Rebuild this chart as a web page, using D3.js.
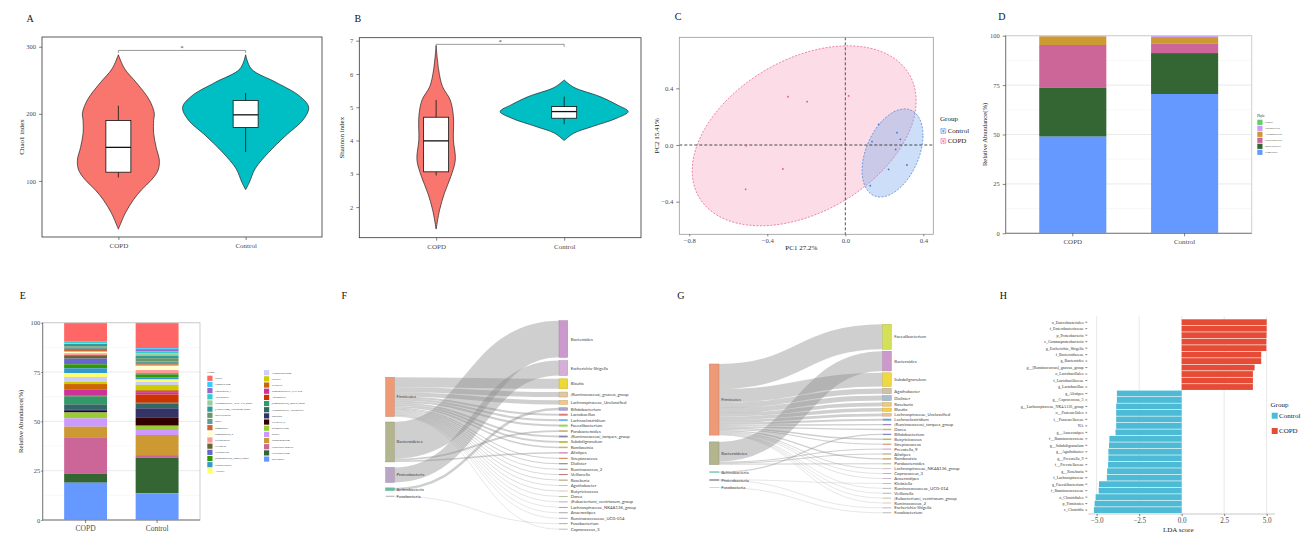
<!DOCTYPE html>
<html>
<head>
<meta charset="utf-8">
<script src="https://d3js.org/d3.v7.min.js"></script>
<style>
  body { margin: 0; background: #fff; }
</style>
</head>
<body>
<svg id="fig" width="1301" height="535"></svg>
<script>
var SERIF = "'Liberation Serif','Times New Roman',serif";
var SANS = "Lato,'Liberation Sans',sans-serif";

var groups = ["COPD", "Control"];
var groupColors = ["#F8766D", "#00BFC4"];

// A: Chao1 violins, [value, relative density]
var chaoCOPD = [[28,0],[52,0.11],[72,0.24],[87,0.37],[101,0.52],[116,0.63],[131,0.65],[150,0.6],[171,0.56],[190,0.56],[201,0.57],[221,0.49],[246,0.29],[267,0.1],[288,0]];
var chaoControl = [[87,0],[98,0.06],[118,0.15],[142,0.36],[167,0.63],[192,0.92],[210,1],[227,0.85],[247,0.48],[267,0.09],[288,0]];
// min, q1, median, q3, max
var chaoBoxes = [[105,113,150,190,212],[143,179.5,198.5,220,231]];
var chaoTicks = [100,200,300];
var chaoSig = 294.5;

// B: Shannon violins
var shanCOPD = [[1.34,0],[1.92,0.055],[2.42,0.13],[2.92,0.23],[3.42,0.3],[4.02,0.27],[4.72,0.27],[5.22,0.22],[5.62,0.1],[6.12,0.04],[6.85,0]];
var shanControl = [[4.0,0],[4.22,0.15],[4.42,0.44],[4.67,0.82],[4.87,1],[5.07,0.83],[5.32,0.56],[5.6,0.15],[5.82,0]];
var shanBoxes = [[2.95,3.06,3.99,4.7,5.22],[4.49,4.67,4.87,5.02,5.32]];
var shanTicks = [2,3,4,5,6,7];
var shanSig = 6.89;

// C: PCoA points and ellipses [cx, cy, sx, sy, rho]
var pcoaCOPD = [[-0.294,0.341],[-0.196,0.306],[0.017,0.346],[-0.508,-0.005],[-0.320,-0.169],[-0.511,-0.313],[0.0,-0.212]];
var pcoaControl = [[0.171,0.146],[0.137,0.024],[0.265,0.087],[0.282,0.040],[0.258,-0.031],[0.222,-0.172],[0.316,-0.141],[0.128,-0.287]];
var ellipseCOPD = [-0.211, 0.065, 0.574, 0.635, 0.39];
var ellipseControl = [0.242, -0.056, 0.156, 0.311, 0.40];
var pcoaXTicks = [-0.8,-0.4,0,0.4];
var pcoaYTicks = [-0.4,0,0.4];

// D: phyla, legend order (top first)
var phyla = ["Others","Fusobacteria","Actinobacteria","Proteobacteria","Bacteroidetes","Firmicutes"];
var phylaCOPD = [0,0.3,4.4,21.6,24.8,48.9];
var phylaControl = [0.1,0.6,3.4,4.7,20.7,70.5];
var phylaColors = ["#66CC66","#CC99FF","#CC9933","#CC6699","#336633","#6699FF"];
var pctTicks = [0,25,50,75,100];

// E: genera, legend order (top first)
var genusNames = ["Others","Fusobacterium","Coprococcus_3","Anaerostipes","Lachnospiraceae_NK4A136_group","[Eubacterium]_ventriosum_group","Butyricicoccus","Dorea","Romboutsia","Ruminococcus_2","Streptococcus","Veillonella","Lactobacillus","[Ruminococcus]_torques_group","Parabacteroides","Alistipes","Lachnoclostridium","Dialister","Klebsiella","Ruminococcaceae_UCG-014","Agathobacter","[Ruminococcus]_gnavus_group","Lachnospiraceae_Unclassified","Roseburia","Prevotella_9","Bifidobacterium","Blautia","Subdoligranulum","Escherichia-Shigella","Faecalibacterium","Bacteroides"];
var genusCOPD = [9.5,0.1,0.2,0.7,0.3,1.2,0.6,0.7,1.4,0.8,1.0,1.7,2.9,2.0,2.4,2.0,2.4,1.2,2.9,3.0,0.3,4.1,2.5,0.8,0.8,3.0,4.2,5.7,18.1,4.6,18.9];
var genusControl = [12.9,0.5,1.2,1.0,1.2,1.2,1.7,1.4,0.7,2.2,1.7,0.3,0.2,1.4,1.2,1.2,1.5,2.7,1.0,1.2,4.2,0.3,2.5,4.6,4.2,2.2,2.5,10.2,1.3,18.1,13.5];
var genusColors = ["#FF6666","#33CCFF","#9966CC","#33CCCC","#99CC99","#339999","#669966","#669999","#CC6633","#FFFFCC","#FF9999","#666633","#6666CC","#339900","#3399CC","#FFFF66","#CCCCFF","#CCCC00","#CC6600","#CC3399","#CC3300","#339966","#336666","#333366","#330000","#99CC33","#CC99FF","#CC9933","#CC6699","#336633","#6699FF"];

// F: sankey COPD (right nodes top to bottom)
var fPhyla = ["Firmicutes","Bacteroidetes","Proteobacteria","Actinobacteria","Fusobacteria"];
var fPhylaColors = ["#EE9A77","#B3B58E","#B9A6C6","#66C2A5","#999999"];
var fGenera = ["Bacteroides","Escherichia-Shigella","Blautia","[Ruminococcus]_gnavus_group","Lachnospiraceae_Unclassified","Bifidobacterium","Lactobacillus","Lachnoclostridium","Faecalibacterium","Parabacteroides","[Ruminococcus]_torques_group","Subdoligranulum","Romboutsia","Alistipes","Streptococcus","Dialister","Ruminococcus_2","Veillonella","Roseburia","Agathobacter","Butyricicoccus","Dorea","[Eubacterium]_ventriosum_group","Lachnospiraceae_NK4A136_group","Anaerostipes","Ruminococcaceae_UCG-014","Fusobacterium","Coprococcus_3"];
var fGenusPhylum = ["Bacteroidetes","Proteobacteria","Firmicutes","Firmicutes","Firmicutes","Actinobacteria","Firmicutes","Firmicutes","Firmicutes","Bacteroidetes","Firmicutes","Firmicutes","Firmicutes","Bacteroidetes","Firmicutes","Firmicutes","Firmicutes","Firmicutes","Firmicutes","Firmicutes","Firmicutes","Firmicutes","Firmicutes","Firmicutes","Firmicutes","Firmicutes","Fusobacteria","Firmicutes"];
var fGenusValue = [36.6,15.0,10.0,5.0,4.2,2.6,2.0,2.0,2.0,1.8,1.8,1.8,1.5,1.5,1.0,1.0,0.8,0.8,0.8,0.7,0.7,0.6,0.6,0.5,0.5,0.5,0.4,0.4];
var fGenusColors = ["#CC99CC","#D7AED7","#EED836","#E2C69E","#F0C987","#A9A6D6","#E07B7B","#7FB2E5","#9BD24E","#C9B48A","#8C7FA8","#B5C334","#C8B560","#D38FC6","#D5723A","#5B7A99","#9C6A4E","#A0524F","#9C7B4A","#B5B5B5","#C4C49A","#A0B08A","#9AA0B0","#8C8CA8","#909090","#A0A0B8","#999999","#AAAAAA"];

// G: sankey Control
var gPhyla = ["Firmicutes","Bacteroidetes","Actinobacteria","Proteobacteria","Fusobacteria"];
var gPhylaColors = ["#EE9A77","#B3B58E","#66C2A5","#555555","#CCCCCC"];
var gGenera = ["Faecalibacterium","Bacteroides","Subdoligranulum","Agathobacter","Dialister","Roseburia","Blautia","Lachnospiraceae_Unclassified","Lachnoclostridium","[Ruminococcus]_torques_group","Dorea","Bifidobacterium","Butyricicoccus","Streptococcus","Prevotella_9","Alistipes","Romboutsia","Parabacteroides","Lachnospiraceae_NK4A136_group","Coprococcus_3","Anaerostipes","Klebsiella","Ruminococcaceae_UCG-014","Veillonella","[Eubacterium]_ventriosum_group","Ruminococcus_2","Escherichia-Shigella","Fusobacterium"];
var gGenusPhylum = ["Firmicutes","Bacteroidetes","Firmicutes","Firmicutes","Firmicutes","Firmicutes","Firmicutes","Firmicutes","Firmicutes","Firmicutes","Firmicutes","Actinobacteria","Firmicutes","Firmicutes","Bacteroidetes","Bacteroidetes","Firmicutes","Bacteroidetes","Firmicutes","Firmicutes","Firmicutes","Proteobacteria","Firmicutes","Firmicutes","Firmicutes","Firmicutes","Proteobacteria","Fusobacteria"];
var gGenusValue = [25,19.7,13.7,5.3,5.0,3.7,3.3,2.7,2.0,1.3,1.5,1.3,1.5,1.0,1.0,1.0,1.3,1.0,0.8,0.6,0.6,0.5,0.5,0.4,0.5,0.4,0.5,0.4];
var gGenusColors = ["#D4E157","#CC99CC","#F0D840","#CFC0A8","#A9BDD0","#EFC87A","#F5D046","#E8C48F","#6A9FD4","#9B8DB5","#C8B86A","#8A88C4","#A5C55A","#D77A55","#C898C8","#B09070","#C8A060","#9AC060","#C0A8B8","#B0A090","#C0A8C0","#B0A8C8","#A8A8A8","#A0A0A0","#B0B090","#D0C0A0","#B8A0B8","#A8A8A8"];

// H: LEfSe LDA scores
var ldaLabels = ["o_Enterobacteriales","f_Enterobacteriaceae","p_Proteobacteria","c_Gammaproteobacteria","g_Escherichia_Shigella","f_Bacteroidaceae","g_Bacteroides","g__[Ruminococcus]_gnavus_group","o_Lactobacillales","f_Lactobacillaceae","g_Lactobacillus","g_Alistipes","g__Coprococcus_3","g__Lachnospiraceae_NK4A136_group","o__Pasteurellales","f__Pasteurellaceae","NA","g__Anaerostipes","f__Ruminococcaceae","g__Subdoligranulum","g__Agathobacter","g__Prevotella_9","f__Prevotellaceae","g__Roseburia","f_Lachnospiraceae","g_Faecalibacterium","f_Ruminococcaceae","o_Clostridiales","p_Firmicutes","c_Clostridia"];
var ldaScores = [5.0,5.0,4.99,4.98,4.98,4.68,4.68,4.29,4.19,4.19,4.19,-3.81,-3.81,-3.85,-3.85,-3.85,-3.85,-3.89,-4.25,-4.27,-4.31,-4.31,-4.33,-4.38,-4.40,-4.86,-4.88,-5.06,-5.12,-5.16];
var ldaGroup = ldaScores.map(function(v) { return v > 0 ? "COPD" : "Control"; });
var ldaColors = {"COPD": "#E64B35", "Control": "#4DBBD5"};
var ldaTicks = [-5,-2.5,0,2.5,5];

var svg = d3.select("#fig");
svg.append("rect").attr("width", 1301).attr("height", 535).attr("fill", "#fff");

function letter(t, x, y) {
  svg.append("text").attr("x", x).attr("y", y)
    .attr("font-family", SERIF).attr("font-size", 10).attr("fill", "#111").text(t);
}

function axisStyle(sel, fs) {
  sel.attr("font-family", SERIF).attr("font-size", fs);
  sel.select(".domain").remove();
  sel.selectAll(".tick line").attr("stroke", "#333").attr("stroke-width", 0.6);
  sel.selectAll(".tick text").attr("fill", "#4d4d4d");
}

function yTitle(text, x, y, fs) {
  svg.append("text").attr("transform", "translate(" + x + "," + y + ") rotate(-90)")
    .attr("text-anchor", "middle").attr("font-family", SERIF).attr("font-size", fs)
    .attr("fill", "#222").text(text);
}

// ---------- violin panels (A, B) ----------
function violinPanel(o) {
  var g = svg.append("g");
  var x = d3.scalePoint().domain(groups).range([o.left, o.right]).padding(0.6);
  var y = d3.scaleLinear().domain(o.domain).range([o.bottom, o.top]);
  var w = d3.scaleLinear().domain([0, 1]).range([0, o.wmax]);
  var boxW = 25;

  o.profiles.forEach(function(prof, i) {
    var cx = x(groups[i]);
    var area = d3.area().curve(d3.curveCatmullRom)
      .y(function(d) { return y(d[0]); })
      .x0(function(d) { return cx - w(d[1]); })
      .x1(function(d) { return cx + w(d[1]); });
    g.append("path").attr("d", area(prof))
      .attr("fill", groupColors[i]).attr("stroke", "#222").attr("stroke-width", 0.7);
    var b = o.boxes[i];
    g.append("line").attr("x1", cx).attr("x2", cx).attr("y1", y(b[0])).attr("y2", y(b[4]))
      .attr("stroke", "#111").attr("stroke-width", 0.8);
    g.append("rect").attr("x", cx - boxW / 2).attr("width", boxW)
      .attr("y", y(b[3])).attr("height", y(b[1]) - y(b[3]))
      .attr("fill", "#fff").attr("stroke", "#111").attr("stroke-width", 0.8);
    g.append("line").attr("x1", cx - boxW / 2).attr("x2", cx + boxW / 2)
      .attr("y1", y(b[2])).attr("y2", y(b[2]))
      .attr("stroke", "#111").attr("stroke-width", 1.3);
  });

  // significance bracket
  var sy = y(o.sig), xa = x(groups[0]), xb = x(groups[1]);
  g.append("path").attr("d", "M" + xa + "," + (sy + 2.5) + "V" + sy + "H" + xb + "V" + (sy + 2.5))
    .attr("fill", "none").attr("stroke", "#555").attr("stroke-width", 0.6);
  g.append("text").attr("x", (xa + xb) / 2).attr("y", sy - 0.5).attr("text-anchor", "middle")
    .attr("font-family", SERIF).attr("font-size", 6).attr("fill", "#333").text("*");

  g.append("rect").attr("x", o.left).attr("y", o.top)
    .attr("width", o.right - o.left).attr("height", o.bottom - o.top)
    .attr("fill", "none").attr("stroke", "#333").attr("stroke-width", 0.8);

  g.append("g").attr("transform", "translate(" + o.left + ",0)")
    .call(d3.axisLeft(y).tickValues(o.ticks).tickSize(3).tickPadding(3).tickFormat(d3.format("d")))
    .call(axisStyle, 6.5);
  g.append("g").attr("transform", "translate(0," + o.bottom + ")")
    .call(d3.axisBottom(x).tickSize(3).tickPadding(3))
    .call(axisStyle, 7);
  yTitle(o.title, o.titleX, (o.top + o.bottom) / 2, 7);
}

violinPanel({left: 42, right: 322, top: 37, bottom: 237, domain: [16.4, 314.5], ticks: chaoTicks,
  profiles: [chaoCOPD, chaoControl], boxes: chaoBoxes, sig: chaoSig, wmax: 63,
  title: "Chao1 index", titleX: 24.2});
violinPanel({left: 359.3, right: 641, top: 37.7, bottom: 237.7, domain: [1.08, 7.09], ticks: shanTicks,
  profiles: [shanCOPD, shanControl], boxes: shanBoxes, sig: shanSig, wmax: 64,
  title: "Shannon index", titleX: 344.2});

// ---------- C: PCoA ----------
(function() {
  var g = svg.append("g");
  var L = 679.3, R = 933.3, T = 37.3, B = 234.3;
  var x = d3.scaleLinear().domain([-0.851, 0.451]).range([L, R]);
  var y = d3.scaleLinear().domain([-0.63, 0.76]).range([B, T]);
  var cols = {"COPD": "#E8528A", "Control": "#3A7BD5"};
  var fills = {"COPD": "#F48FB1", "Control": "#6FA4EC"};
  var line = d3.line().curve(d3.curveLinearClosed)
    .x(function(d) { return x(d[0]); }).y(function(d) { return y(d[1]); });
  function ellipsePts(e) {
    return d3.range(0, 2 * Math.PI, Math.PI / 72).map(function(t) {
      return [e[0] + e[2] * Math.cos(t),
              e[1] + e[3] * (e[4] * Math.cos(t) + Math.sqrt(1 - e[4] * e[4]) * Math.sin(t))];
    });
  }
  g.append("path").attr("d", line(ellipsePts(ellipseCOPD)))
    .attr("fill", fills.COPD).attr("fill-opacity", 0.3)
    .attr("stroke", cols.COPD).attr("stroke-width", 0.7).attr("stroke-dasharray", "2,1.5");
  g.append("path").attr("d", line(ellipsePts(ellipseControl)))
    .attr("fill", fills.Control).attr("fill-opacity", 0.35)
    .attr("stroke", cols.Control).attr("stroke-width", 0.7).attr("stroke-dasharray", "2,1.5");

  g.append("line").attr("x1", x(0)).attr("x2", x(0)).attr("y1", T).attr("y2", B)
    .attr("stroke", "#555").attr("stroke-width", 1).attr("stroke-dasharray", "3,2");
  g.append("line").attr("x1", L).attr("x2", R).attr("y1", y(0)).attr("y2", y(0))
    .attr("stroke", "#222").attr("stroke-width", 0.8).attr("stroke-dasharray", "3,2");

  [["COPD", pcoaCOPD], ["Control", pcoaControl]].forEach(function(s) {
    g.selectAll(null).data(s[1]).enter().append("circle")
      .attr("cx", function(d) { return x(d[0]); }).attr("cy", function(d) { return y(d[1]); })
      .attr("r", 0.9).attr("fill", cols[s[0]]);
  });

  g.append("rect").attr("x", L).attr("y", T).attr("width", R - L).attr("height", B - T)
    .attr("fill", "none").attr("stroke", "#999").attr("stroke-width", 0.8);
  g.append("g").attr("transform", "translate(" + L + ",0)")
    .call(d3.axisLeft(y).tickValues(pcoaYTicks).tickSize(3).tickPadding(3).tickFormat(d3.format(".1f")))
    .call(axisStyle, 6.7);
  g.append("g").attr("transform", "translate(0," + B + ")")
    .call(d3.axisBottom(x).tickValues(pcoaXTicks).tickSize(2).tickPadding(1.5).tickFormat(d3.format(".1f")))
    .call(axisStyle, 6.7);
  svg.append("text").attr("x", (L + R) / 2 - 5).attr("y", 249.7).attr("text-anchor", "middle")
    .attr("font-family", SERIF).attr("font-size", 7).attr("fill", "#222").text("PC1 27.2%");
  yTitle("PC2 15.41%", 658.5, (T + B) / 2, 7);

  // legend
  var lg = svg.append("g").attr("font-family", SERIF);
  lg.append("text").attr("x", 940).attr("y", 120.5).attr("font-size", 7).attr("fill", "#222").text("Group");
  ["Control", "COPD"].forEach(function(n, i) {
    var cy = 131 + i * 10;
    lg.append("rect").attr("x", 940.8).attr("y", cy - 2.5).attr("width", 5).attr("height", 5)
      .attr("fill", fills[n]).attr("fill-opacity", 0.35)
      .attr("stroke", cols[n]).attr("stroke-width", 0.6).attr("stroke-dasharray", "1,0.7");
    lg.append("circle").attr("cx", 943.3).attr("cy", cy).attr("r", 0.8).attr("fill", cols[n]);
    lg.append("text").attr("x", 947.7).attr("y", cy + 2.4).attr("font-size", 7).attr("fill", "#222").text(n);
  });
})();

// ---------- stacked bars (D, E) ----------
function stackPanel(o) {
  var g = svg.append("g");
  var rows = groups.map(function(gn, i) {
    var r = {group: gn};
    o.keys.forEach(function(k, j) { r[k] = o.values[i][j]; });
    return r;
  });
  var series = d3.stack().keys(o.keys).order(d3.stackOrderReverse)(rows);
  var x = d3.scaleBand().domain(groups).range([o.left, o.right]).paddingInner(0.4).paddingOuter(0.3);
  var y = d3.scaleLinear().domain([0, 100]).range([o.bottom, o.top]);

  d3.range(0, 100.1, 12.5).forEach(function(v) {
    g.append("line").attr("x1", o.left).attr("x2", o.right).attr("y1", y(v)).attr("y2", y(v))
      .attr("stroke", v % 25 === 0 ? "#e4e4e4" : "#f1f1f1").attr("stroke-width", v % 25 === 0 ? 0.8 : 0.5);
  });
  series.forEach(function(s) {
    var col = o.colors[o.keys.indexOf(s.key)];
    g.selectAll(null).data(s).enter().append("rect")
      .attr("x", function(d) { return x(d.data.group); })
      .attr("width", x.bandwidth())
      .attr("y", function(d) { return y(d[1]); })
      .attr("height", function(d) { return y(d[0]) - y(d[1]); })
      .attr("fill", col);
  });
  g.append("rect").attr("x", o.left).attr("y", o.top).attr("width", o.right - o.left)
    .attr("height", o.bottom - o.top).attr("fill", "none").attr("stroke", "#cfcfcf").attr("stroke-width", 1);
  g.append("path").attr("d", "M" + o.left + "," + o.top + "V" + o.bottom + "H" + o.right)
    .attr("fill", "none").attr("stroke", "#666").attr("stroke-width", 0.8);
  g.append("g").attr("transform", "translate(" + o.left + ",0)")
    .call(d3.axisLeft(y).tickValues(pctTicks).tickSize(o.tick).tickPadding(o.pad))
    .call(axisStyle, 6.5);
  g.append("g").attr("transform", "translate(0," + o.bottom + ")")
    .call(d3.axisBottom(x).tickSize(3).tickPadding(3))
    .call(axisStyle, o.xfs);
  yTitle("Relative Abundance(%)", o.titleX, (o.top + o.bottom) / 2, 6.6);

  // legend
  var lg = svg.append("g").attr("font-family", SERIF);
  lg.append("text").attr("x", o.legX[0]).attr("y", o.legTitleY).attr("font-size", o.legFs + 0.2)
    .attr("fill", "#222").text(o.legTitle);
  o.keys.forEach(function(k, j) {
    var col = j < o.legSplit ? 0 : 1;
    var row = col === 0 ? j : j - o.legSplit;
    var cy = o.legY[col] + row * o.legStep;
    lg.append("rect").attr("x", o.legX[col]).attr("y", cy - 2.6).attr("width", 5.2).attr("height", 5.2)
      .attr("fill", o.colors[j]);
    lg.append("text").attr("x", o.legX[col] + 7.7).attr("y", cy + 0.9).attr("font-size", o.legFs)
      .attr("fill", "#333").text(k);
  });
}

stackPanel({left: 1005.7, right: 1251.7, top: 35.7, bottom: 233.3, keys: phyla, colors: phylaColors,
  values: [phylaCOPD, phylaControl], tick: 3, pad: 3, xfs: 7, titleX: 987.3,
  legTitle: "Phyla", legX: [1257.3, 1257.3], legTitleY: 116.7, legY: [122.3, 122.3], legStep: 6,
  legSplit: 99, legFs: 2.9});
stackPanel({left: 42.7, right: 200, top: 322.7, bottom: 520, keys: genusNames, colors: genusColors,
  values: [genusCOPD, genusControl], tick: 1.5, pad: 1, xfs: 7.5, titleX: 22.5,
  legTitle: "Genus", legX: [207.3, 264], legTitleY: 373.3, legY: [378.3, 372.7], legStep: 6.17,
  legSplit: 16, legFs: 2.6});

// ---------- sankey (F, G) ----------
function sankeyPanel(o) {
  var g = svg.append("g");
  var k = d3.scaleLinear().domain([0, 1]).range([0, 1]);
  var right = o.genera.map(function(n, i) {
    return {name: n, phylum: o.genPhylum[i], v: o.genValue[i], col: o.genColors[i]};
  });
  var yy = o.yRight;
  right.forEach(function(n) {
    var h = k(n.v), slot = Math.max(h, o.minSlot);
    n.y0 = yy + (slot - h) / 2; n.y1 = n.y0 + h;
    yy += slot + o.padRight;
  });
  var left = o.phyla.map(function(p, i) {
    return {name: p, col: o.phylaColors[i],
      v: d3.sum(right.filter(function(n) { return n.phylum === p; }), function(n) { return n.v; })};
  });
  yy = o.yLeft;
  left.forEach(function(n) { n.y0 = yy; n.y1 = yy + k(n.v); yy = n.y1 + o.padLeft; });

  var links = [];
  left.forEach(function(n) {
    var off = n.y0;
    right.filter(function(r) { return r.phylum === n.name; }).forEach(function(r) {
      var h = k(r.v);
      links.push({sy: off + h / 2, ty: (r.y0 + r.y1) / 2, w: h});
      off += h;
    });
  });
  var link = d3.linkHorizontal();
  g.selectAll(null).data(links).enter().append("path")
    .attr("d", function(d) { return link({source: [o.xL[1], d.sy], target: [o.xR[0], d.ty]}); })
    .attr("fill", "none").attr("stroke", "#8c8c8c").attr("stroke-opacity", 0.42)
    .attr("stroke-width", function(d) { return Math.max(d.w, 0.5); });

  function nodes(arr, xs) {
    g.selectAll(null).data(arr).enter().append("rect")
      .attr("x", xs[0]).attr("width", xs[1] - xs[0])
      .attr("y", function(d) { return (d.y0 + d.y1) / 2 - Math.max(d.y1 - d.y0, 0.8) / 2; })
      .attr("height", function(d) { return Math.max(d.y1 - d.y0, 0.8); })
      .attr("fill", function(d) { return d.col; })
      .attr("stroke", function(d) { return d3.color(d.col).darker(0.5); })
      .attr("stroke-width", function(d) { return d.y1 - d.y0 > 2 ? 0.5 : 0; });
  }
  nodes(left, o.xL);
  nodes(right, o.xR);
  g.selectAll(null).data(left).enter().append("text")
    .attr("x", o.xL[1] + 2.2).attr("y", function(d) { return (d.y0 + d.y1) / 2 + 1.5; })
    .attr("font-family", SANS).attr("font-size", 4.3).attr("fill", "#444")
    .text(function(d) { return d.name; });
  g.selectAll(null).data(right).enter().append("text")
    .attr("x", o.xR[1] + 3).attr("y", function(d) { return (d.y0 + d.y1) / 2 + 1.5; })
    .attr("font-family", SANS).attr("font-size", 4.3).attr("fill", "#444")
    .text(function(d) { return d.name; });
}

sankeyPanel({phyla: fPhyla, phylaColors: fPhylaColors, genera: fGenera, genPhylum: fGenusPhylum,
  genValue: fGenusValue, genColors: fGenusColors, xL: [385.7, 394.3], xR: [559, 567.7],
  yLeft: 377.3, padLeft: 5.5, yRight: 320.7, padRight: 3.25, minSlot: 2.2});
sankeyPanel({phyla: gPhyla, phylaColors: gPhylaColors, genera: gGenera, genPhylum: gGenusPhylum,
  genValue: gGenusValue, genColors: gGenusColors, xL: [709.3, 719], xR: [882.7, 891.3],
  yLeft: 364, padLeft: 6.8, yRight: 324.3, padRight: 1.9, minSlot: 3.0});

// ---------- H: LDA ----------
(function() {
  var g = svg.append("g");
  var L = 1088.3, R = 1275, T = 319.3, B = 513;
  var x = d3.scaleLinear().domain([-5.49, 5.49]).range([L, R]);
  var y = d3.scaleBand().domain(d3.range(ldaLabels.length)).range([T, B]).paddingInner(0.1);
  ldaTicks.forEach(function(t) {
    g.append("line").attr("x1", x(t)).attr("x2", x(t)).attr("y1", T - 3).attr("y2", B + 1)
      .attr("stroke", "#e8e8e8").attr("stroke-width", 1);
  });
  g.selectAll(null).data(ldaScores).enter().append("rect")
    .attr("x", function(d) { return x(Math.min(0, d)); })
    .attr("width", function(d) { return Math.abs(x(d) - x(0)); })
    .attr("y", function(d, i) { return y(i); })
    .attr("height", y.bandwidth())
    .attr("fill", function(d, i) { return ldaColors[ldaGroup[i]]; });
  g.append("line").attr("x1", L).attr("x2", R).attr("y1", B + 1).attr("y2", B + 1)
    .attr("stroke", "#bbb").attr("stroke-width", 0.8);
  g.selectAll(null).data(ldaLabels).enter().append("text")
    .attr("x", 1083.5).attr("y", function(d, i) { return y(i) + y.bandwidth() / 2 + 1.4; })
    .attr("text-anchor", "end").attr("font-family", SERIF).attr("font-size", 4)
    .attr("fill", "#333").text(function(d) { return d; });
  g.selectAll(null).data(ldaLabels).enter().append("line")
    .attr("x1", 1085.3).attr("x2", 1087.3)
    .attr("y1", function(d, i) { return y(i) + y.bandwidth() / 2; })
    .attr("y2", function(d, i) { return y(i) + y.bandwidth() / 2; })
    .attr("stroke", "#333").attr("stroke-width", 0.6);
  g.append("g").attr("transform", "translate(0," + (B + 1) + ")")
    .call(d3.axisBottom(x).tickValues(ldaTicks).tickSize(2).tickPadding(2).tickFormat(d3.format(".1f")))
    .call(axisStyle, 7.2);
  svg.append("text").attr("x", 1178.3).attr("y", 531.7).attr("text-anchor", "middle")
    .attr("font-family", SERIF).attr("font-size", 7).attr("fill", "#222").text("LDA score");
  var lg = svg.append("g").attr("font-family", SERIF);
  lg.append("text").attr("x", 1270.5).attr("y", 406.5).attr("font-size", 7).attr("fill", "#222").text("Group");
  ["Control", "COPD"].forEach(function(n, i) {
    var cy = 415.7 + i * 15.3;
    lg.append("rect").attr("x", 1271.7).attr("y", cy - 3).attr("width", 6).attr("height", 6)
      .attr("fill", ldaColors[n]);
    lg.append("text").attr("x", 1279).attr("y", cy + 2.4).attr("font-size", 7).attr("fill", "#222").text(n);
  });
})();

letter("A", 26.4, 21.6);
letter("B", 354.5, 21.6);
letter("C", 674.8, 19.5);
letter("D", 998.2, 19.5);
letter("E", 19.8, 298.5);
letter("F", 341.5, 298.5);
letter("G", 677.3, 298.5);
letter("H", 999.7, 298.5);
</script>
</body>
</html>
